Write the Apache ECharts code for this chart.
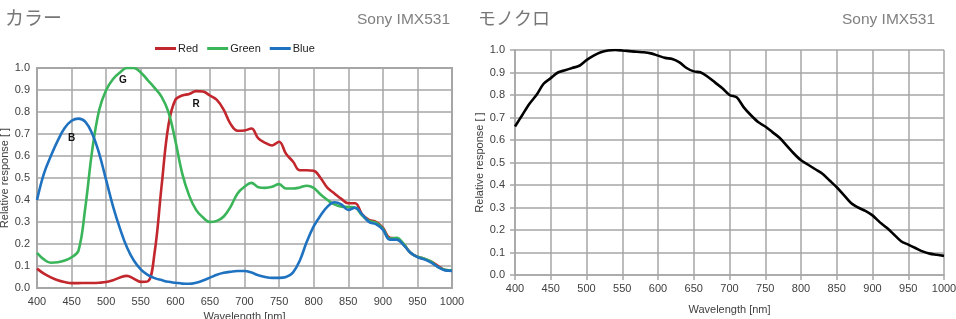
<!DOCTYPE html>
<html><head><meta charset="utf-8">
<script src="https://cdn.jsdelivr.net/npm/echarts@6/dist/echarts.min.js"></script>
<style>html,body{margin:0;padding:0;background:#fff}#c{width:956px;height:319px}</style>
</head><body><div id="c"></div>
<script>
const wavelengths = [400,410,420,430,440,450,460,470,480,490,500,510,520,530,540,550,560,570,580,590,600,610,620,630,640,650,660,670,680,690,700,710,720,730,740,750,760,770,780,790,800,810,820,830,840,850,860,870,880,890,900,910,920,930,940,950,960,970,980,990,1000];
const redValues = [0.088,0.065,0.048,0.035,0.027,0.022,0.022,0.023,0.023,0.024,0.027,0.035,0.048,0.055,0.042,0.028,0.03,0.16,0.46,0.74,0.855,0.875,0.882,0.895,0.893,0.875,0.855,0.81,0.745,0.715,0.716,0.725,0.68,0.66,0.648,0.665,0.61,0.575,0.535,0.535,0.533,0.5,0.455,0.43,0.405,0.385,0.385,0.335,0.31,0.3,0.275,0.228,0.225,0.2,0.16,0.142,0.133,0.12,0.1,0.082,0.08];
const greenValues = [0.16,0.13,0.115,0.117,0.125,0.14,0.17,0.37,0.63,0.81,0.9,0.95,0.98,1.0,1.0,0.98,0.945,0.91,0.87,0.8,0.67,0.52,0.42,0.355,0.32,0.3,0.305,0.325,0.37,0.43,0.46,0.478,0.458,0.455,0.46,0.472,0.452,0.452,0.457,0.465,0.455,0.425,0.4,0.38,0.37,0.368,0.365,0.33,0.305,0.297,0.27,0.225,0.228,0.2,0.16,0.142,0.133,0.12,0.095,0.083,0.08];
const blueValues = [0.40,0.52,0.6,0.67,0.727,0.76,0.77,0.755,0.7,0.61,0.49,0.37,0.27,0.185,0.125,0.085,0.06,0.045,0.036,0.028,0.024,0.02,0.019,0.024,0.034,0.047,0.06,0.069,0.074,0.077,0.077,0.07,0.058,0.05,0.046,0.046,0.05,0.07,0.125,0.21,0.28,0.33,0.37,0.39,0.38,0.355,0.365,0.335,0.3,0.29,0.265,0.22,0.22,0.195,0.16,0.14,0.13,0.115,0.095,0.08,0.078];
const monoValues = [0.66,0.71,0.76,0.80,0.85,0.875,0.90,0.91,0.92,0.93,0.955,0.975,0.99,0.998,1.0,0.998,0.995,0.992,0.99,0.985,0.975,0.965,0.96,0.945,0.92,0.905,0.9,0.88,0.855,0.83,0.8,0.79,0.745,0.71,0.68,0.66,0.635,0.61,0.575,0.54,0.51,0.49,0.47,0.45,0.42,0.39,0.355,0.32,0.3,0.285,0.265,0.235,0.21,0.18,0.15,0.135,0.12,0.105,0.095,0.09,0.085];
const curveLabels = [
  {text:'B', wl:450, v:0.68, series:'Blue'},
  {text:'G', wl:524, v:0.945, series:'Green'},
  {text:'R', wl:630, v:0.836, series:'Red'}
];
const xTitle = 'Wavelength [nm]';
const yTitle = 'Relative response [ ]';

const pairs = vals => wavelengths.map((w,i)=>[w, vals[i]]);
const font = 'Liberation Sans, Arial, sans-serif';
const gridColor = '#a6a6a6';

function xAx(gi, ticks){
  return {type:'value', gridIndex:gi, min:400, max:1000, interval:50,
    name:xTitle, nameLocation:'middle', nameGap:gi===0?22:29,
    nameTextStyle:{fontFamily:font, fontSize:11, color:'#404040'},
    axisLine:{show:true, onZero:false, lineStyle:{color:gridColor, width:gi===0?2:1.5}},
    axisTick:{show:ticks, length:5, lineStyle:{color:gridColor, width:1.5}},
    axisLabel:{fontFamily:font, fontSize:11, color:'#404040', margin:gi===0?8:8, formatter:v=>String(v)},
    splitLine:{show:true, lineStyle:{color:gridColor, width:1.5}}};
}
function yAx(gi, ticks){
  return {type:'value', gridIndex:gi, min:0, max:1, interval:0.1,
    name:yTitle, nameLocation:'middle', nameGap:gi===0?16:27, nameRotate:90,
    nameTextStyle:{fontFamily:font, fontSize:11, color:'#404040'},
    axisLine:{show:true, lineStyle:{color:gridColor, width:gi===0?2:1.5}},
    axisTick:{show:ticks, length:5, lineStyle:{color:gridColor, width:1.5}},
    axisLabel:{fontFamily:font, fontSize:11, color:'#404040', margin:gi===0?7:10, formatter:v=>v.toFixed(1)},
    splitLine:{show:true, lineStyle:{color:gridColor, width:1.5}}};
}
const colors = {Red:'#c1272d', Green:'#3bb55a', Blue:'#1f72bf'};
function colSeries(name, vals){
  const lbls = curveLabels.filter(l=>l.series===name);
  return {name, type:'line', xAxisIndex:0, yAxisIndex:0, data:pairs(vals), smooth:0.4,
    showSymbol:false, lineStyle:{color:colors[name], width:2.6}, itemStyle:{color:colors[name]},
    markPoint:{symbol:'circle', symbolSize:0, silent:true,
      label:{show:true, position:'inside', fontFamily:font, fontWeight:'bold', fontSize:10, color:'#111', formatter:p=>p.name},
      data:lbls.map(l=>({name:l.text, coord:[l.wl, l.v]}))}};
}
const chart = echarts.init(document.getElementById('c'));
chart.setOption({
  animation:false,
  title:[
    {text:'カラー', left:0, top:3, textStyle:{fontFamily:'Noto Sans CJK JP', fontSize:19, fontWeight:'normal', color:'#777'}},
    {text:'Sony IMX531', right:501, top:7, textStyle:{fontFamily:font, fontSize:15.5, fontWeight:'normal', color:'#808080'}},
    {text:'モノクロ', left:473, top:4, textStyle:{fontFamily:'Noto Sans CJK JP', fontSize:18, fontWeight:'normal', color:'#777'}},
    {text:'Sony IMX531', right:16, top:7, textStyle:{fontFamily:font, fontSize:15.5, fontWeight:'normal', color:'#808080'}}
  ],
  legend:{data:['Red','Green','Blue'], left:150, top:38, itemWidth:21, itemHeight:3, itemGap:9,
    icon:'rect', textStyle:{fontFamily:font, fontSize:11, color:'#222', padding:[0,0,0,-3]}},
  grid:[
    {left:37, top:68, width:415, height:220, show:true, borderColor:gridColor, borderWidth:2, outerBoundsMode:'none', containLabel:false},
    {left:515, top:50, width:429, height:225, outerBoundsMode:'none', containLabel:false}
  ],
  xAxis:[xAx(0,false), xAx(1,true)],
  yAxis:[yAx(0,false), yAx(1,true)],
  series:[
    colSeries('Red', redValues),
    colSeries('Green', greenValues),
    colSeries('Blue', blueValues),
    {name:'Mono', type:'line', xAxisIndex:1, yAxisIndex:1, data:pairs(monoValues), smooth:0.3,
      showSymbol:false, lineStyle:{color:'#000', width:2.6}}
  ]
});
</script></body></html>
